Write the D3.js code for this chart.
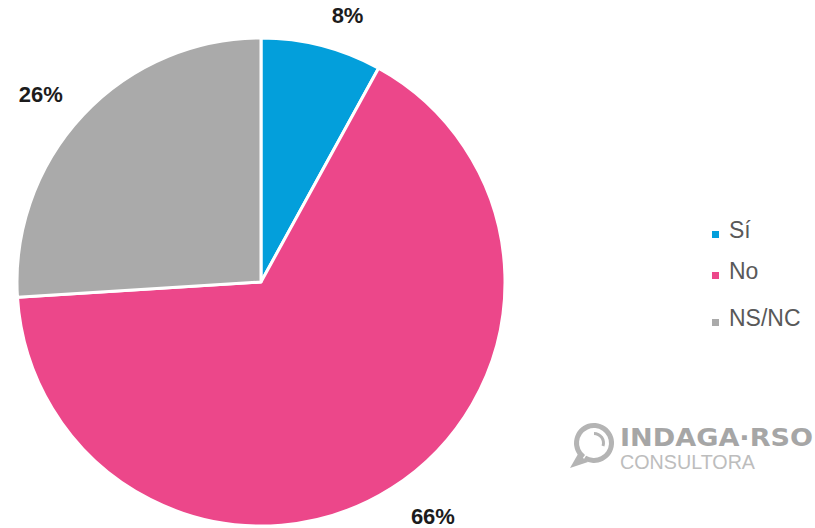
<!DOCTYPE html>
<html><head><meta charset="utf-8">
<script src="https://cdn.jsdelivr.net/npm/d3@7"></script>
<style>body{margin:0;background:#fff}svg{display:block}</style>
</head><body>
<svg id="c" width="815" height="528"></svg>
<script>
const categories = ["Sí", "No", "NS/NC"];
const values = [8, 66, 26];
const colors = ["#039fdb", "#ec478a", "#aaaaaa"];
const labels = ["8%", "66%", "26%"];

const svg = d3.select("#c");
const cx = 261, cy = 282, R = 244;
const pie = d3.pie().sort(null).value(d => d)(values);
const arc = d3.arc().innerRadius(0).outerRadius(R);
const g = svg.append("g").attr("transform", `translate(${cx},${cy})`);
g.selectAll("path").data(pie).join("path")
  .attr("d", arc).attr("fill", (d, i) => colors[i])
  .attr("stroke", "#fff").attr("stroke-width", 3).attr("stroke-linejoin", "round");

const lr = 276;
const mid = d => (d.startAngle + d.endAngle) / 2;
g.selectAll("text.lbl").data(pie).join("text").attr("class", "lbl")
  .attr("x", d => lr * Math.sin(mid(d)) + (Math.sin(mid(d)) >= 0 ? 2 : 3))
  .attr("y", d => -lr * Math.cos(mid(d)) + 3)
  .attr("text-anchor", d => Math.sin(mid(d)) >= 0 ? "start" : "end")
  .attr("dominant-baseline", "middle")
  .attr("font-family", "Liberation Sans, Arial, sans-serif")
  .attr("font-weight", "bold").attr("font-size", 22).attr("fill", "#1c1c1c")
  .text((d, i) => labels[i]);

const y = d3.scaleOrdinal().domain(categories).range([238, 279, 326]);
const lg = svg.append("g");
categories.forEach((c, i) => {
  lg.append("rect").attr("x", 712).attr("y", y(c) - 7).attr("width", 7).attr("height", 7).attr("fill", colors[i]);
  lg.append("text").attr("x", 729).attr("y", y(c))
    .attr("font-family", "Liberation Sans, Arial, sans-serif").attr("font-size", 23).attr("fill", "#595959")
    .text(c);
});

// logo
const logo = svg.append("g");
const ic = logo.append("g").attr("transform", "translate(594,443)");
ic.append("path").attr("d", d3.arc().innerRadius(15).outerRadius(20).startAngle(-2.5).endAngle(3.7)())
  .attr("fill", "#b4b4b4");
ic.append("path").attr("d", d3.arc().innerRadius(8).outerRadius(11).startAngle(0.0).endAngle(1.9)())
  .attr("fill", "#b4b4b4");
ic.append("path").attr("d", "M-16,11 L-24,25 L-6,19 Z").attr("fill", "#b4b4b4");
logo.append("text").attr("x", 620).attr("y", 446)
  .attr("font-family", "DejaVu Sans, sans-serif").attr("font-weight", "bold").attr("font-size", 25)
  .attr("fill", "#a6a6a6").attr("textLength", 193).attr("lengthAdjust", "spacingAndGlyphs").text("INDAGA·RSO");
logo.append("text").attr("x", 620).attr("y", 469)
  .attr("font-family", "Liberation Sans, sans-serif").attr("font-size", 20)
  .attr("fill", "#bdbdbd").attr("textLength", 135).attr("lengthAdjust", "spacingAndGlyphs").text("CONSULTORA");
</script>
</body></html>
